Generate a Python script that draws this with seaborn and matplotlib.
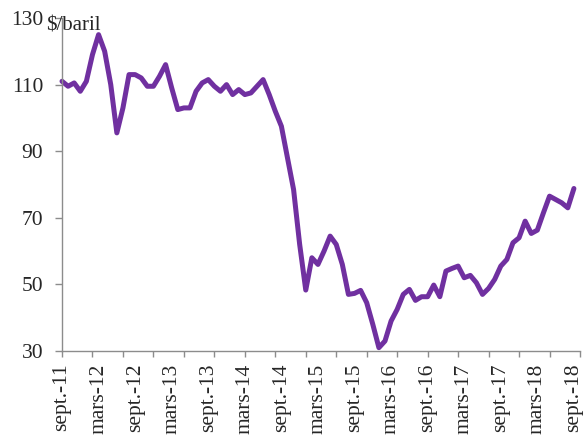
import matplotlib
matplotlib.use("Agg")
import matplotlib.pyplot as plt
import seaborn as sns
import pandas as pd
import numpy as np

# Monthly Brent price, $/baril, Sept 2011 -> Sept 2018
prices = [
    111.0, 109.5, 110.5, 108.0,                                                   # 2011 S-D
    111.0, 119.0, 125.0, 120.0, 110.0, 95.5, 103.0, 113.0, 113.0, 112.0, 109.5, 109.5,  # 2012
    112.5, 116.0, 109.0, 102.5, 103.0, 103.0, 108.0, 110.5, 111.5, 109.5, 108.0, 110.0,  # 2013
    107.0, 108.5, 107.0, 107.5, 109.5, 111.5, 107.0, 102.0, 97.5, 88.0, 78.5, 62.0,     # 2014
    48.3, 58.0, 56.0, 60.0, 64.5, 62.0, 56.0, 47.0, 47.3, 48.2, 44.5, 38.0,             # 2015
    31.0, 33.0, 39.0, 42.5, 47.0, 48.5, 45.2, 46.3, 46.3, 49.8, 46.3, 54.0,             # 2016
    54.8, 55.5, 52.0, 52.7, 50.5, 47.0, 48.8, 51.5, 55.5, 57.5, 62.5, 64.0,             # 2017
    69.0, 65.3, 66.3, 71.5, 76.5, 75.5, 74.5, 73.0, 78.8,                               # 2018 J-S
]
month_index = list(range(len(prices)))
tick_labels = ["sept.-11", "mars-12", "sept.-12", "mars-13", "sept.-13", "mars-14",
               "sept.-14", "mars-15", "sept.-15", "mars-16", "sept.-16", "mars-17",
               "sept.-17", "mars-18", "sept.-18"]
y_ticks = [30, 50, 70, 90, 110, 130]

df = pd.DataFrame({"mois": month_index, "prix": prices})

sns.set_style("ticks")
plt.rcParams["font.family"] = ["Liberation Serif", "DejaVu Serif"]

fig = plt.figure(figsize=(5.88, 4.42), dpi=100)
ax = fig.add_axes([62 / 588, 1 - 351 / 442, (580 - 62) / 588, (351 - 18) / 442])

sns.lineplot(data=df, x="mois", y="prix", ax=ax, color="#7030A0", linewidth=3.6,
             solid_joinstyle="round", solid_capstyle="round", clip_on=False)

ax.set_xlim(0, 85)
ax.set_ylim(30, 130)
ax.set_yticks(y_ticks)
ax.set_yticklabels([str(v) for v in y_ticks])

# labels every 6 months (major, no mark), tick marks every 5 months (minor)
ax.xaxis.remove_overlapping_locs = False
ax.set_xticks(np.arange(0, 85, 6))
ax.set_xticklabels(tick_labels, rotation=90)
ax.set_xticks(np.arange(0, 86, 5), minor=True)

gray = "#8c8c8c"
for s in ["top", "right"]:
    ax.spines[s].set_visible(False)
for s in ["left", "bottom"]:
    ax.spines[s].set_color(gray)
    ax.spines[s].set_linewidth(1.0)

ax.tick_params(axis="x", which="minor", direction="out", length=4.5, width=1, color=gray)
ax.tick_params(axis="x", which="major", length=0, pad=9, labelsize=15.5, labelcolor="#262626")
ax.tick_params(axis="y", direction="out", length=5, width=1, color=gray, pad=8.5,
               labelsize=15.5, labelcolor="#262626")

ax.set_xlabel("")
ax.set_ylabel("")

fig.text(46 / 588, 1 - 30 / 442, "$/baril", fontsize=15, color="#262626",
         va="baseline", ha="left")

fig.savefig("out.png", dpi=100)
